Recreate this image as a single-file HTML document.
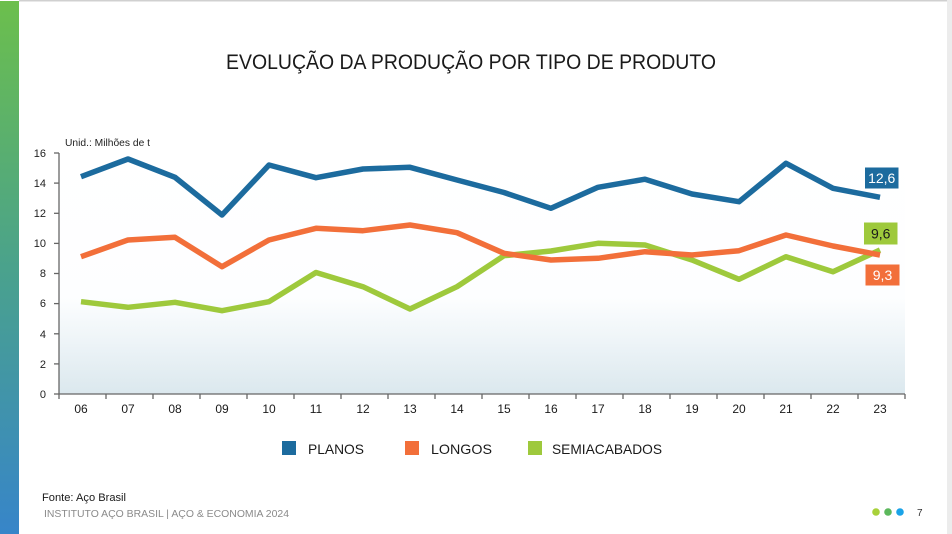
<!DOCTYPE html>
<html><head><meta charset="utf-8">
<style>
html,body{margin:0;padding:0;background:#fff;}
svg{display:block;}
text{font-family:"Liberation Sans",sans-serif;}
</style></head>
<body>
<svg width="952" height="534" viewBox="0 0 952 534" xmlns="http://www.w3.org/2000/svg">
<defs>
<linearGradient id="lb" x1="0" y1="0" x2="0" y2="1">
<stop offset="0" stop-color="#6cbf4c"/>
<stop offset="0.5" stop-color="#4aa28c"/>
<stop offset="1" stop-color="#3785c9"/>
</linearGradient>
<linearGradient id="bg" x1="0" y1="153" x2="0" y2="394" gradientUnits="userSpaceOnUse">
<stop offset="0" stop-color="#ffffff"/>
<stop offset="0.6" stop-color="#fdfeff"/>
<stop offset="1" stop-color="#dbe8ee"/>
</linearGradient>
</defs>
<rect x="0" y="0" width="952" height="534" fill="#fff"/>
<rect x="19" y="0" width="933" height="1.5" fill="#d0d0d0"/>
<rect x="947" y="0" width="5" height="534" fill="#ececec"/>
<rect x="0" y="1" width="19" height="533" fill="url(#lb)"/>

<text x="226" y="69" font-size="21" fill="#1a1a1a" textLength="490" lengthAdjust="spacingAndGlyphs">EVOLUÇÃO DA PRODUÇÃO POR TIPO DE PRODUTO</text>

<text x="65" y="146" font-size="10" fill="#222" textLength="85" lengthAdjust="spacingAndGlyphs">Unid.: Milhões de t</text>

<rect x="59" y="153" width="846" height="241" fill="url(#bg)"/>

<!-- y axis -->
<g stroke="#666" stroke-width="1.3">
<line x1="59" y1="153" x2="59" y2="394"/>
<line x1="54" y1="153" x2="59" y2="153"/>
<line x1="54" y1="183.1" x2="59" y2="183.1"/>
<line x1="54" y1="213.3" x2="59" y2="213.3"/>
<line x1="54" y1="243.4" x2="59" y2="243.4"/>
<line x1="54" y1="273.5" x2="59" y2="273.5"/>
<line x1="54" y1="303.6" x2="59" y2="303.6"/>
<line x1="54" y1="333.8" x2="59" y2="333.8"/>
<line x1="54" y1="363.9" x2="59" y2="363.9"/>
<line x1="54" y1="394" x2="59" y2="394"/>
<line x1="59" y1="394" x2="905" y2="394"/>
</g>
<g stroke="#666" stroke-width="1.3">
<line x1="106" y1="394" x2="106" y2="399"/><line x1="153" y1="394" x2="153" y2="399"/>
<line x1="200" y1="394" x2="200" y2="399"/><line x1="247" y1="394" x2="247" y2="399"/>
<line x1="294" y1="394" x2="294" y2="399"/><line x1="341" y1="394" x2="341" y2="399"/>
<line x1="388" y1="394" x2="388" y2="399"/><line x1="435" y1="394" x2="435" y2="399"/>
<line x1="482" y1="394" x2="482" y2="399"/><line x1="529" y1="394" x2="529" y2="399"/>
<line x1="576" y1="394" x2="576" y2="399"/><line x1="623" y1="394" x2="623" y2="399"/>
<line x1="670" y1="394" x2="670" y2="399"/><line x1="717" y1="394" x2="717" y2="399"/>
<line x1="764" y1="394" x2="764" y2="399"/><line x1="811" y1="394" x2="811" y2="399"/>
<line x1="858" y1="394" x2="858" y2="399"/><line x1="905" y1="394" x2="905" y2="399"/>
<line x1="59" y1="394" x2="59" y2="399"/>
</g>
<g font-size="11" fill="#222" text-anchor="end">
<text x="46" y="157">16</text>
<text x="46" y="187">14</text>
<text x="46" y="217">12</text>
<text x="46" y="247">10</text>
<text x="46" y="277">8</text>
<text x="46" y="307">6</text>
<text x="46" y="338">4</text>
<text x="46" y="368">2</text>
<text x="46" y="398">0</text>
</g>
<g font-size="12" fill="#1a1a1a" text-anchor="middle">
<text x="81" y="413">06</text><text x="128" y="413">07</text><text x="175" y="413">08</text>
<text x="222" y="413">09</text><text x="269" y="413">10</text><text x="316" y="413">11</text>
<text x="363" y="413">12</text><text x="410" y="413">13</text><text x="457" y="413">14</text>
<text x="504" y="413">15</text><text x="551" y="413">16</text><text x="598" y="413">17</text>
<text x="645" y="413">18</text><text x="692" y="413">19</text><text x="739" y="413">20</text>
<text x="786" y="413">21</text><text x="833" y="413">22</text><text x="880" y="413">23</text>
</g>

<g fill="none" stroke-width="5.5" stroke-linejoin="round" stroke-linecap="butt">
<polyline stroke="#9ec93c" points="81,301.7 128,307.3 175,302.3 222,310.7 269,301.7 316,272.5 363,286.7 410,309 457,286.7 504,255.7 551,251 598,243.3 645,245 692,260 739,279.3 786,256.7 833,271.7 880,250"/>
<polyline stroke="#f26f3a" points="81,256.7 128,240 175,237.3 222,266.7 269,240 316,228.3 363,230.7 410,225 457,232.7 504,253.3 551,260 598,258.3 645,251.7 692,255 739,250.7 786,235 833,246 880,255"/>
<polyline stroke="#1c6b9e" points="81,176.7 128,159 175,177.3 222,215 269,165 316,177.7 363,169 410,167.3 457,180 504,192.5 551,208.3 598,187.3 645,179.2 692,194 739,201.7 786,163.3 833,188.3 880,197.3"/>
</g>

<rect x="865" y="167.5" width="33.5" height="21" fill="#1c6b9e"/>
<text x="881.7" y="183" font-size="14" fill="#fff" text-anchor="middle">12,6</text>
<rect x="864" y="222.5" width="33.5" height="22" fill="#9ec93c"/>
<text x="880.7" y="238.5" font-size="14" fill="#1a1a1a" text-anchor="middle">9,6</text>
<rect x="865.5" y="264.5" width="34" height="21" fill="#f26f3a"/>
<text x="882.5" y="280" font-size="14" fill="#fff" text-anchor="middle">9,3</text>

<!-- legend -->
<rect x="282" y="441" width="14" height="14" fill="#1c6b9e"/>
<text x="308" y="454" font-size="14" fill="#1a1a1a" textLength="56" lengthAdjust="spacingAndGlyphs">PLANOS</text>
<rect x="405" y="441" width="14" height="14" fill="#f26f3a"/>
<text x="431" y="454" font-size="14" fill="#1a1a1a" textLength="61" lengthAdjust="spacingAndGlyphs">LONGOS</text>
<rect x="528" y="441" width="14" height="14" fill="#9ec93c"/>
<text x="552" y="454" font-size="14" fill="#1a1a1a" textLength="110" lengthAdjust="spacingAndGlyphs">SEMIACABADOS</text>

<text x="42" y="501" font-size="11" fill="#1a1a1a" textLength="84" lengthAdjust="spacingAndGlyphs">Fonte: Aço Brasil</text>
<text x="44" y="517" font-size="10" fill="#8a8a8a" textLength="245" lengthAdjust="spacingAndGlyphs">INSTITUTO AÇO BRASIL | AÇO &amp; ECONOMIA 2024</text>

<circle cx="876" cy="512" r="3.8" fill="#a8d13a"/>
<circle cx="888" cy="512" r="3.8" fill="#5cb85c"/>
<circle cx="900" cy="512" r="3.8" fill="#1aa3e8"/>
<text x="917" y="516" font-size="10" fill="#333">7</text>
</svg>
</body></html>
